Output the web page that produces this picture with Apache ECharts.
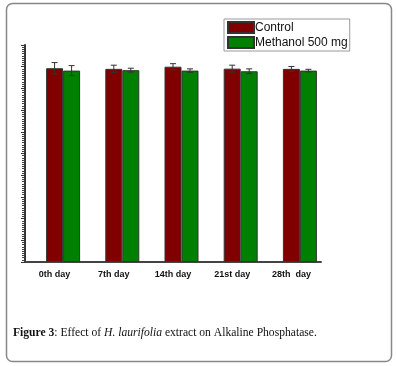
<!DOCTYPE html>
<html lang="en">

<head>
    <meta charset="UTF-8">
    <title>Alkaline Phosphatase</title>
    <script src="https://cdn.jsdelivr.net/npm/echarts@6/dist/echarts.min.js"></script>
    <style>
        body { margin: 0; background: #fff; }
    </style>
</head>

<body>
    <div id="main" style="width: 396px;height:366px;"></div>
    <script type="text/javascript">
        // data (y axis has no labels, arbitrary 0-100 scale)
        var days = ['0th day', '7th day', '14th day', '21st day', '28th  day']
        var control = [89.3, 89.0, 90.0, 89.1, 89.0]
        var controlErr = [2.6, 1.7, 1.4, 1.6, 1.1]
        var methanol = [88.2, 88.4, 88.2, 87.9, 88.2]
        var methanolErr = [2.3, 0.9, 0.8, 1.1, 0.6]

        var barW = 17

        function errData(vals, errs) {
            return vals.map(function (v, i) { return [i, v, errs[i]] })
        }

        function errSeries(name, vals, errs, shift) {
            return {
                name: name + ' err',
                type: 'custom',
                z: 10,
                data: errData(vals, errs),
                encode: { x: 0, y: 1 },
                renderItem: function (params, api) {
                    var i = api.value(0)
                    var v = api.value(1)
                    var e = api.value(2)
                    var top = api.coord([i, v + e])
                    var bot = api.coord([i, v - e])
                    var x = top[0] + shift
                    var cap = 3
                    var st = { stroke: '#333', lineWidth: 1 }
                    return {
                        type: 'group',
                        children: [
                            { type: 'line', shape: { x1: x, y1: top[1], x2: x, y2: bot[1] }, style: st },
                            { type: 'line', shape: { x1: x - cap, y1: top[1], x2: x + cap, y2: top[1] }, style: st },
                            { type: 'line', shape: { x1: x - cap, y1: bot[1], x2: x + cap, y2: bot[1] }, style: st }
                        ]
                    }
                }
            }
        }

        var myChart = echarts.init(document.getElementById('main'))

        var option = {
            animation: false,
            grid: { left: 25, right: 75, top: 45, bottom: 104 },
            legend: {
                orient: 'vertical',
                left: 224,
                top: 19,
                padding: [2, 2, 2, 3],
                icon: 'rect',
                itemWidth: 26,
                itemHeight: 11,
                itemGap: 2,
                borderColor: '#999',
                borderWidth: 1,
                data: ['Control', 'Methanol 500 mg'],
                textStyle: { fontFamily: 'Liberation Sans', fontSize: 12, color: '#111', padding: [0, 0, 0, -4] }
            },
            xAxis: [{
                type: 'category',
                data: days,
                axisLine: { lineStyle: { color: '#444', width: 2 } },
                axisTick: { alignWithLabel: true, length: 4, lineStyle: { color: '#444' } },
                axisLabel: { fontFamily: 'Liberation Sans', fontWeight: 'bold', fontSize: 9, color: '#111', margin: 8 }
            }, {
                type: 'category',
                data: days,
                position: 'bottom',
                axisLine: { show: false },
                axisTick: { length: 2, lineStyle: { color: '#444' } },
                axisLabel: { show: false }
            }],
            yAxis: {
                type: 'value',
                min: 0,
                max: 100,
                interval: 10,
                axisLine: { show: true, lineStyle: { color: '#333', width: 2 } },
                axisTick: { show: true, length: 4, lineStyle: { color: '#333' } },
                minorTick: { show: true, splitNumber: 10, length: 3, lineStyle: { color: '#444' } },
                axisLabel: { show: false },
                splitLine: { show: false }
            },
            series: [{
                // empty slot so the Control bar sits on the tick, as in the figure
                name: 'spacer',
                type: 'bar',
                barWidth: barW,
                barGap: '0%',
                data: days.map(function () { return null })
            }, {
                name: 'Control',
                type: 'bar',
                barWidth: barW,
                barGap: '0%',
                itemStyle: { color: '#800000', borderColor: '#333', borderWidth: 1 },
                data: control
            }, {
                name: 'Methanol 500 mg',
                type: 'bar',
                barWidth: barW,
                barGap: '0%',
                itemStyle: { color: '#008000', borderColor: '#333', borderWidth: 1 },
                data: methanol
            },
            errSeries('Control', control, controlErr, 0),
            errSeries('Methanol', methanol, methanolErr, barW)
            ],
            graphic: [{
                type: 'rect',
                shape: { x: 6.5, y: 3.5, width: 385, height: 358, r: 6 },
                style: { fill: 'none', stroke: '#888', lineWidth: 1.5 }
            }, {
                type: 'text',
                left: 13,
                top: 327,
                style: {
                    text: '{b|Figure 3}: Effect of {i|H. laurifolia} extract on Alkaline Phosphatase.',
                    font: '11.6px "Liberation Serif"',
                    fill: '#111',
                    rich: {
                        b: { fontWeight: 'bold', fontFamily: 'Liberation Serif', fontSize: 11.6, fill: '#111' },
                        i: { fontStyle: 'italic', fontFamily: 'Liberation Serif', fontSize: 11.6, fill: '#111' }
                    }
                }
            }]
        }

        myChart.setOption(option)
    </script>
</body>

</html>
